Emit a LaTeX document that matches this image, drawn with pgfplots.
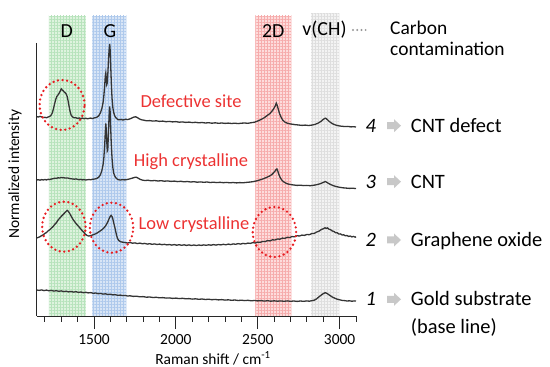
\documentclass[border=0pt]{standalone}
\usepackage{fontspec}
\setmainfont{Carlito}
\usepackage{pgfplots}
\pgfplotsset{compat=1.18}
\usetikzlibrary{patterns.meta}
\definecolor{lineC}{RGB}{52,52,52}
\definecolor{axisC}{RGB}{40,40,40}
\definecolor{bandG}{RGB}{222,243,222}
\definecolor{gridG}{RGB}{183,227,188}
\definecolor{bandB}{RGB}{216,229,246}
\definecolor{gridB}{RGB}{174,201,236}
\definecolor{bandR}{RGB}{253,220,220}
\definecolor{gridR}{RGB}{246,172,172}
\definecolor{bandK}{RGB}{243,243,243}
\definecolor{gridK}{RGB}{222,222,222}
\definecolor{redC}{RGB}{232,30,34}
\definecolor{redT}{RGB}{236,50,50}
\definecolor{arrowC}{RGB}{200,200,200}
\definecolor{dotC}{RGB}{150,150,150}
\newcommand\fsT{\fontsize{15.5}{18}\selectfont}
\newcommand\fsX{\fontsize{15.5}{19}\selectfont}
\newcommand\fsY{\fontsize{15.5}{19}\selectfont}
\newcommand\fsRed{\fontsize{18.5}{22}\selectfont}
\newcommand\fsTop{\fontsize{20}{24}\selectfont}
\newcommand\fsC{\fontsize{19.5}{23}\selectfont}
\newcommand\fsR{\fontsize{20.5}{25}\selectfont}
\newcommand\rarrow[1]{\begin{scope}[shift={(0,#1bp)}]\fill[arrowC] (387bp,3.5bp) -- (394bp,3.5bp) -- (394bp,6.5bp) -- (401bp,0bp) -- (394bp,-6.5bp) -- (394bp,-3.5bp) -- (387bp,-3.5bp) -- cycle;\end{scope}}
\begin{document}
\begin{tikzpicture}
\useasboundingbox (0,0) rectangle (550bp,367bp);
\begin{axis}[at={(36.7bp,51bp)}, anchor=south west, scale only axis,
  width=319.3bp, height=300bp, xmin=1150, xmax=3100, ymin=0, ymax=300,
  axis x line*=bottom, axis y line=none, clip=false,
  axis line style={-}, x axis line style={draw=axisC, line width=1bp},
  xtick={1500,2000,2500,3000}, xticklabels={1500,2000,2500,3000},
  minor xtick={1200,1300,...,3100}, ytick=\empty,
  tick align=outside, major tick length=13bp, minor tick length=5.7bp,
  every tick/.style={draw=axisC, line width=1bp},
  xticklabel style={font=\fsT, anchor=base, yshift=-15.5bp}]
% bands
\addplot[draw=none, fill=bandG, postaction={pattern color=gridG, pattern={Hatch[angle=0,distance=3bp,line width=0.9bp]}}] coordinates {(1225,300)(1450,300)} \closedcycle;
\addplot[draw=none, fill=bandB, postaction={pattern color=gridB, pattern={Hatch[angle=0,distance=3bp,line width=0.9bp]}}] coordinates {(1490,300)(1698,300)} \closedcycle;
\addplot[draw=none, fill=bandR, postaction={pattern color=gridR, pattern={Hatch[angle=0,distance=3bp,line width=0.9bp]}}] coordinates {(2485,300)(2705,300)} \closedcycle;
\addplot[draw=none, fill=bandK, postaction={pattern color=gridK, pattern={Hatch[angle=0,distance=3bp,line width=0.9bp]}}] coordinates {(2825,302)(2998,302)} \closedcycle;
% 4 CNT defect
\addplot[lineC, line width=1.3bp] coordinates {
(1150,199.3)(1160,199.0)(1170,199.6)(1180,199.1)(1190,198.4)(1200,198.7)(1210,198.2)(1220,199.0)(1230,199.6)(1238,200.8)(1245,203.0)(1252,207.0)(1259,212.0)(1266,216.5)(1273,219.5)(1280,221.0)(1287,222.8)(1294,225.0)(1300,227.2)(1306,226.0)(1312,225.2)(1318,224.0)(1324,223.2)(1330,222.0)(1336,219.5)(1342,215.0)(1348,209.5)(1354,204.5)(1360,201.0)(1368,199.2)(1378,198.2)(1390,198.2)(1400,197.6)(1410,198.0)(1420,197.4)(1430,197.9)(1440,197.3)(1450,197.8)(1460,197.2)(1470,197.6)(1480,197.9)(1490,197.4)(1500,198.0)(1510,198.4)(1520,199.0)(1530,200.5)(1540,203.5)(1548,207.5)(1555,213.0)(1560,220.0)(1565,230.0)(1569,240.0)(1572,243.0)(1575,238.0)(1578,231.5)(1581,233.0)(1585,244.0)(1589,258.0)(1593,268.0)(1596,272.0)(1599,265.0)(1602,250.0)(1606,232.0)(1610,218.0)(1615,208.5)(1620,203.5)(1627,200.0)(1635,198.0)(1645,196.5)(1655,196.2)(1665,196.6)(1675,196.0)(1685,196.3)(1695,196.8)(1705,196.4)(1715,196.9)(1725,197.5)(1735,198.3)(1745,199.0)(1755,199.2)(1765,198.4)(1775,197.3)(1790,196.2)(1805,195.8)(1820,195.2)
(1840,195.4)(1860,194.9)(1880,195.2)(1900,194.6)(1920,194.9)(1940,194.3)(1960,194.6)(1980,194.1)(2000,194.4)(2020,193.8)(2040,194.1)(2060,193.6)(2080,193.9)(2100,193.4)(2120,193.7)(2140,193.2)(2160,193.5)(2180,193.0)(2200,193.3)(2220,192.8)(2240,193.2)(2260,192.7)(2280,193.0)(2300,192.6)(2320,192.9)(2340,192.5)(2360,192.8)(2380,192.4)(2400,192.8)(2420,193.0)(2440,192.7)(2460,193.3)(2480,193.8)(2500,195.0)(2520,196.5)(2540,198.3)(2560,200.8)(2575,202.5)(2590,205.5)(2600,208.0)(2608,210.5)(2613,212.8)(2618,211.0)(2625,207.0)(2633,202.5)(2642,199.0)(2652,196.0)(2665,194.0)(2680,192.8)(2695,192.2)(2710,191.8)(2730,191.3)(2750,191.0)(2770,190.6)(2790,190.9)(2810,190.5)(2830,190.9)(2850,191.6)(2870,193.0)(2885,194.5)(2898,196.3)(2908,197.5)(2915,197.8)(2922,196.8)(2932,195.2)(2945,193.5)(2960,192.0)(2975,191.0)(2990,190.3)(3010,189.8)(3030,189.5)(3050,189.6)(3070,189.1)(3085,189.3)(3100,189.0)};
% 3 CNT
\addplot[lineC, line width=1.3bp] coordinates {
(1150,136.0)(1160,136.3)(1170,135.8)(1180,136.4)(1190,136.0)(1200,136.5)(1210,136.1)(1220,136.7)(1230,136.4)(1240,137.0)(1250,137.3)(1260,137.8)(1270,137.6)(1280,138.2)(1290,138.0)(1300,138.5)(1310,138.3)(1320,138.1)(1330,137.9)(1340,138.0)(1350,137.5)(1360,137.3)(1370,137.0)(1380,136.8)(1390,137.1)(1400,136.6)(1410,136.3)(1420,136.6)(1430,136.1)(1440,136.4)(1450,136.0)(1460,136.3)(1470,136.5)(1480,136.2)(1490,136.7)(1500,136.9)(1510,137.2)(1520,137.8)(1530,139.0)(1540,141.5)(1548,145.5)(1555,151.0)(1560,158.0)(1565,170.0)(1569,184.0)(1572,192.5)(1575,186.0)(1578,174.0)(1581,165.0)(1584,166.0)(1588,182.0)(1592,200.0)(1595,209.5)(1598,206.0)(1601,192.0)(1605,174.0)(1610,158.0)(1615,148.5)(1620,143.0)(1628,139.5)(1637,137.5)(1647,136.4)(1660,136.0)(1675,136.3)(1690,136.1)(1705,136.6)(1720,137.2)(1735,137.9)(1748,138.6)(1758,138.8)(1768,138.0)(1780,136.8)(1795,135.9)(1810,135.5)
(1830,135.7)(1850,135.2)(1870,135.5)(1890,135.0)(1910,135.3)(1930,134.8)(1950,135.1)(1970,134.6)(1990,134.9)(2010,134.4)(2030,134.7)(2050,134.2)(2070,134.5)(2090,134.0)(2110,134.3)(2130,133.8)(2150,134.1)(2170,133.7)(2190,134.0)(2210,133.5)(2230,133.8)(2250,133.4)(2270,133.7)(2290,133.3)(2310,133.6)(2330,133.2)(2350,133.5)(2370,133.1)(2390,133.4)(2410,133.2)(2430,133.6)(2450,133.9)(2470,134.3)(2490,135.0)(2510,135.9)(2530,137.0)(2550,138.3)(2570,139.8)(2585,141.3)(2597,143.3)(2606,145.0)(2612,146.6)(2617,147.0)(2622,145.2)(2628,142.0)(2636,138.8)(2645,136.3)(2656,134.4)(2670,133.0)(2685,132.0)(2700,131.5)(2720,131.0)(2740,130.6)(2760,130.8)(2780,130.4)(2800,130.6)(2820,130.3)(2840,130.7)(2860,131.3)(2880,132.2)(2895,133.2)(2905,133.9)(2913,134.5)(2920,133.8)(2930,132.8)(2945,131.5)(2960,130.4)(2980,129.4)(3000,128.7)(3020,128.2)(3040,127.9)(3060,127.6)(3080,127.8)(3100,127.4)};
% 2 Graphene oxide
\addplot[lineC, line width=1.3bp] coordinates {
(1150,78.0)(1160,78.6)(1170,79.3)(1180,80.4)(1190,81.2)(1200,82.6)(1210,83.5)(1220,85.2)(1230,86.3)(1240,87.9)(1250,89.4)(1260,91.6)(1270,93.2)(1280,95.8)(1290,97.7)(1300,99.6)(1310,101.3)(1318,102.6)(1326,104.0)(1333,105.2)(1338,105.6)(1343,104.6)(1350,103.0)(1358,100.6)(1366,98.2)(1374,96.0)(1382,94.3)(1390,92.5)(1398,91.0)(1406,89.6)(1414,88.0)(1422,86.4)(1430,85.0)(1438,83.6)(1446,82.1)(1454,80.9)(1462,80.2)(1470,80.0)(1480,80.5)(1490,80.9)(1500,81.6)(1510,82.2)(1520,83.1)(1530,84.2)(1540,85.3)(1550,86.5)(1560,88.0)(1570,90.0)(1578,92.2)(1586,94.8)(1593,97.6)(1599,99.6)(1605,100.6)(1610,99.4)(1615,97.0)(1620,93.4)(1626,89.5)(1632,85.0)(1638,80.6)(1644,77.4)(1652,75.4)(1662,74.3)(1675,73.8)(1690,73.4)
(1705,73.0)(1720,73.5)(1735,72.8)(1750,73.1)(1765,72.4)(1780,72.9)(1795,72.2)(1810,72.6)(1825,71.9)(1840,72.3)(1855,71.7)(1870,72.1)(1885,71.5)(1900,71.9)(1915,71.3)(1930,71.7)(1945,71.1)(1960,71.5)(1975,70.9)(1990,71.4)(2005,70.8)(2020,71.3)(2035,70.7)(2050,71.2)(2065,70.6)(2080,71.1)(2095,70.5)(2110,71.0)(2125,70.5)(2140,71.0)(2155,70.6)(2170,71.1)(2185,70.7)(2200,71.2)(2215,70.8)(2230,71.4)(2245,70.9)(2260,71.5)(2275,71.1)(2290,71.7)(2305,71.2)(2320,71.9)(2335,71.4)(2350,72.1)(2365,71.7)(2380,72.4)(2395,71.9)(2410,72.6)(2425,72.2)(2440,72.9)(2455,72.6)(2470,73.4)(2485,73.0)(2500,73.9)(2515,73.6)(2530,74.6)(2545,74.4)(2560,75.4)(2575,75.1)(2590,76.2)(2605,76.0)(2620,77.0)(2635,76.8)(2650,77.9)(2665,77.6)(2680,78.7)(2695,78.5)(2710,79.5)(2725,79.2)(2740,80.3)(2755,80.0)(2770,80.9)(2785,80.6)(2800,81.5)(2815,81.3)(2830,82.4)(2845,82.6)(2860,84.0)(2875,84.9)(2888,86.5)(2900,87.2)(2910,88.2)(2918,87.6)(2926,88.1)(2935,86.8)(2945,86.3)(2955,85.0)(2965,84.6)(2975,83.3)(2985,83.2)(2995,82.0)(3005,82.1)(3015,81.0)(3025,81.2)(3035,80.2)(3045,80.5)(3055,79.6)(3065,80.0)(3075,79.1)(3085,79.6)(3095,78.8)(3100,79.3)};
% 1 Gold substrate
\addplot[lineC, line width=1.3bp] coordinates {
(1150,26.0)(1165,25.6)(1180,26.1)(1195,25.4)(1210,25.9)(1225,25.2)(1240,25.6)(1255,24.9)(1270,25.3)(1285,24.7)(1300,25.1)(1315,24.4)(1330,24.8)(1345,24.1)(1360,24.5)(1375,23.9)(1390,24.3)(1405,23.6)(1420,24.0)(1435,23.3)(1450,23.7)(1465,23.1)(1480,23.4)(1495,22.7)(1510,23.0)(1525,22.3)(1540,22.6)(1555,21.9)(1570,22.2)(1585,21.5)(1600,21.8)(1615,21.1)(1630,21.3)(1645,20.7)(1660,20.9)(1675,20.4)(1690,20.6)(1705,20.0)(1720,20.2)(1740,19.6)(1760,19.8)(1780,19.2)(1800,19.4)(1820,18.8)(1840,19.0)(1860,18.5)(1880,18.7)(1900,18.2)(1920,18.4)(1940,17.9)(1960,18.1)(1980,17.6)(2000,17.9)(2020,17.4)(2040,17.7)(2060,17.2)(2080,17.4)(2100,16.9)(2120,17.2)(2140,16.7)(2160,17.0)(2180,16.5)(2200,16.8)(2220,16.3)(2240,16.6)(2260,16.1)(2280,16.4)(2300,15.9)(2320,16.2)(2340,15.7)(2360,16.0)(2380,15.5)(2400,15.8)(2420,15.4)(2440,15.7)(2460,15.2)(2480,15.5)(2500,15.1)(2520,15.4)(2540,14.9)(2560,15.3)(2580,14.8)(2600,15.2)(2620,14.8)(2640,15.1)(2660,14.7)(2680,15.1)(2700,14.7)(2720,15.0)(2740,14.6)(2760,15.0)(2780,14.7)(2800,15.1)(2815,14.8)(2830,15.3)(2845,15.8)(2858,17.0)(2870,18.6)(2882,20.2)(2893,21.6)(2903,22.6)(2912,23.3)(2920,22.8)(2930,21.8)(2942,20.4)(2955,19.0)(2970,17.8)(2985,16.8)(3000,16.2)(3015,15.6)(3030,15.4)(3045,15.0)(3060,15.2)(3075,14.8)(3090,15.1)(3100,14.9)};
% dotted circles
\draw[redC, line width=2.6bp, line cap=round, dash pattern=on 0bp off 4.6bp] (axis cs:1305,211) ellipse [x radius=22.5bp, y radius=25bp];
\draw[redC, line width=2.6bp, line cap=round, dash pattern=on 0bp off 4.6bp] (axis cs:1316,89.3) ellipse [x radius=21.7bp, y radius=25bp];
\draw[redC, line width=2.6bp, line cap=round, dash pattern=on 0bp off 4.6bp] (axis cs:1607,88.3) ellipse [x radius=21.7bp, y radius=25bp];
\draw[redC, line width=2.6bp, line cap=round, dash pattern=on 0bp off 4.6bp] (axis cs:2602,84) ellipse [x radius=21.7bp, y radius=25bp];
\end{axis}
% y axis line
\draw[axisC, line width=1.1bp] (36.7bp,324bp) -- (36.7bp,51bp);
% axis labels
\node[rotate=90, font=\fsY] at (15bp,193bp) {Normalized intensity};
\node[anchor=base, font=\fsX] at (213bp,3bp) {Raman shift / cm\textsuperscript{-1}};
% band labels
\node[anchor=base, font=\fsTop] at (66.7bp,329.9bp) {D};
\node[anchor=base, font=\fsTop] at (110bp,329.9bp) {G};
\node[anchor=base, font=\fsTop] at (273.3bp,329.9bp) {2D};
\node[anchor=base, font=\fsTop] at (324.5bp,331.6bp) {v(CH)};
\draw[dotC, line width=2.2bp, line cap=round, dash pattern=on 0bp off 4.2bp] (353bp,337bp) -- (369bp,337bp);
\node[anchor=base west, inner sep=0pt, font=\fsC] at (390bp,332bp) {Carbon};
\node[anchor=base west, inner sep=0pt, font=\fsC] at (390bp,311bp) {contamination};
% red annotations
\node[font=\fsRed, text=redT] at (191bp,266bp) {Defective site};
\node[font=\fsRed, text=redT] at (191bp,205.3bp) {High crystalline};
\node[font=\fsRed, text=redT] at (194bp,142.7bp) {Low crystalline};
% right labels
\node[anchor=base, font=\fsR\itshape] at (370.7bp,234.7bp) {4};
\node[anchor=base, font=\fsR\itshape] at (370.7bp,178.7bp) {3};
\node[anchor=base, font=\fsR\itshape] at (370.7bp,120.4bp) {2};
\node[anchor=base, font=\fsR\itshape] at (370.7bp,61.1bp) {1};
\rarrow{241.3}
\rarrow{185.3}
\rarrow{127}
\rarrow{67.7}
\node[anchor=base west, inner sep=0pt, font=\fsR] at (410.7bp,234.7bp) {CNT defect};
\node[anchor=base west, inner sep=0pt, font=\fsR] at (410.7bp,178.7bp) {CNT};
\node[anchor=base west, inner sep=0pt, font=\fsR] at (410.7bp,120.4bp) {Graphene oxide};
\node[anchor=base west, inner sep=0pt, font=\fsR] at (410.7bp,61.1bp) {Gold substrate};
\node[anchor=base west, inner sep=0pt, font=\fsR] at (410.7bp,33.7bp) {(base line)};
\end{tikzpicture}
\end{document}
